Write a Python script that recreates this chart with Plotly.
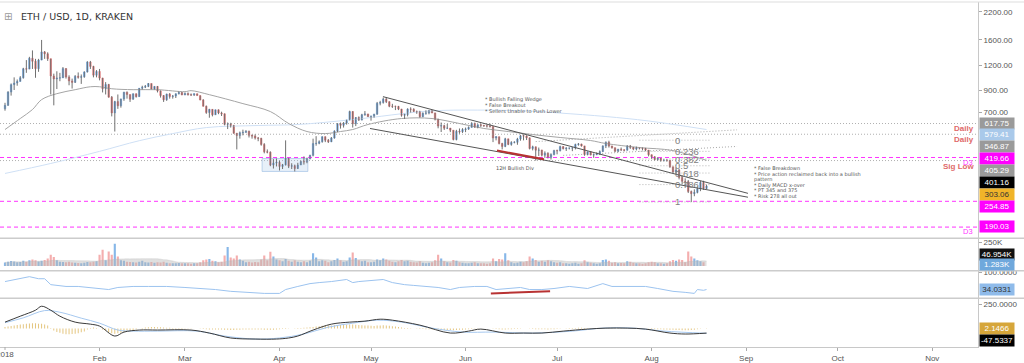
import numpy as np
import pandas as pd
import plotly.graph_objects as go

# ---------------- DATA ----------------
first_open = 730
close_jan = [760,884,962,980,997,1041,1153,1148,1299,1255,1154,1273,1396,1366,1292,1061,1026,1036,1039,1155,1049,1003,987,1058,1046,1052,1111,1245,1183,1071,1118]
close_feb = [1036,917,964,834,697,793,756,817,883,860,815,867,839,923,935,943,974,914,943,895,849,809,864,840,845,867,879,856]
close_mar = [869,857,856,867,849,808,752,700,726,682,722,697,690,612,613,605,553,539,556,559,565,540,536,524,522,487,448,446,385,394,397]
close_apr = [379,386,417,380,382,370,385,401,399,414,430,492,493,502,532,511,502,524,567,616,605,621,644,708,616,661,643,683,689,669]
close_may = [672,687,778,785,816,792,752,751,751,728,679,685,728,727,709,707,668,695,696,716,697,649,600,603,586,587,573,515,566,563,577]
close_jun = [580,591,619,592,609,605,602,600,597,524,532,492,476,519,487,498,499,518,537,536,525,465,474,456,457,431,441,420,434,454]
close_jul = [453,475,464,467,467,468,487,489,479,434,448,432,433,436,449,479,499,478,469,451,461,458,456,479,471,462,469,467,466,457,433]
close_aug = [423,410,417,406,407,406,378,356,364,334,320,319,285,278,282,294,316,295,303]

high_jan = [782,893,975,1045,1020,1060,1165,1272,1320,1420,1290,1290,1600,1410,1390,1290,1090,1120,1100,1175,1160,1070,1030,1072,1105,1080,1120,1256,1260,1192,1135]
high_feb = [1150,1040,990,970,845,800,860,820,886,890,860,870,870,925,950,958,980,970,945,947,900,854,868,874,855,870,890,885]
high_mar = [880,880,870,870,868,850,815,758,730,727,724,725,707,693,625,623,608,555,564,576,573,570,545,546,530,525,494,460,450,412,415]
high_apr = [405,390,510,418,393,387,395,405,425,419,433,520,535,510,534,533,518,530,572,620,625,628,645,715,711,665,670,690,712,690]
high_may = [675,690,790,800,830,835,795,773,757,755,730,690,735,743,735,716,714,701,718,720,720,699,652,625,609,615,587,573,575,584,586]
high_jun = [590,598,627,624,612,616,608,610,617,598,535,532,496,525,518,505,505,525,543,545,540,527,480,475,470,458,450,445,440,458]
high_jul = [459,480,477,472,470,472,491,495,491,479,449,450,438,445,455,482,504,508,480,470,463,470,460,483,484,473,475,470,470,468,457]
high_aug = [434,426,421,417,411,412,408,378,375,369,342,331,325,288,292,302,321,322,308]

low_jan = [715,755,849,905,950,1000,1030,1100,1147,1150,1040,1113,1270,1290,1260,860,760,915,1000,1037,1030,955,920,980,1030,970,1040,1104,1150,1045,1045]
low_feb = [1010,880,860,830,670,564,730,740,800,820,790,810,830,838,910,925,935,912,910,880,830,790,800,820,820,826,860,853]
low_mar = [853,850,845,845,850,805,750,690,660,670,684,687,673,605,580,590,550,460,520,540,555,527,520,515,505,480,440,440,380,370,379]
low_apr = [362,368,383,372,368,358,368,385,387,393,411,425,480,488,497,500,495,500,520,560,583,590,610,640,590,600,636,640,675,665]
low_may = [638,660,683,760,775,780,744,738,720,720,668,651,670,700,705,690,660,664,683,686,695,640,585,561,574,580,560,510,510,550,555]
low_jun = [560,575,590,589,585,594,595,590,590,500,510,487,460,472,483,480,493,485,508,510,512,460,455,405,427,425,418,415,410,430]
low_jul = [435,450,460,452,460,451,460,480,475,428,430,430,418,431,432,447,467,470,464,446,446,452,450,454,463,456,455,460,455,452,425]
low_aug = [413,406,405,400,401,400,373,352,347,327,310,302,280,253,270,279,286,290,293]

vol_jan = [38,45,52,48,40,42,55,45,60,70,62,48,55,64,80,118,95,60,45,42,40,45,38,35,32,30,35,42,40,45,50]
vol_feb = [120,172,60,154,120,236,100,60,55,45,42,40,38,45,55,40,38,42,35,40,38,45,35,30,28,30,32,30]
vol_mar = [30,28,25,28,30,40,60,70,75,55,50,40,45,110,200,90,80,110,70,55,40,45,38,42,40,70,110,60,150,100,70]
vol_apr = [60,50,75,55,45,60,45,40,50,40,55,136,90,50,60,55,40,50,65,80,60,45,50,90,143,85,60,50,55,40]
vol_may = [40,45,70,60,80,70,55,45,40,50,65,50,55,45,40,38,50,35,30,35,40,60,118,80,50,40,38,64,55,40,35]
vol_jun = [30,28,35,40,30,30,28,25,30,80,50,75,70,136,60,40,30,35,45,40,50,100,80,64,45,55,45,60,50,40]
vol_jul = [35,40,30,28,25,28,35,25,30,60,40,35,30,25,30,64,70,55,35,40,30,32,30,50,45,35,30,28,25,30,40]
vol_aug = [45,40,30,28,25,30,50,64,55,70,64,40,154,100,80,60,50,40,1.283]

hist_jan = [15,20,25,30,35,40,45,50,52,55,55,50,48,40,30,5,-20,-35,-45,-55,-60,-60,-58,-55,-50,-40,-30,-10,5,10,5]
hist_feb = [0,-10,-20,-35,-50,-55,-50,-45,-38,-30,-22,-15,-8,0,5,10,12,15,15,14,12,10,8,8,6,5,5,4]
hist_mar = [3,2,2,1,0,-2,-5,-8,-10,-10,-10,-10,-10,-12,-14,-15,-15,-14,-12,-10,-10,-10,-10,-10,-10,-10,-12,-12,-14,-12,-10]
hist_apr = [-8,-6,-4,-2,0,2,4,6,8,10,12,16,20,24,28,30,32,32,33,34,35,36,38,40,40,38,36,34,32,30]
hist_may = [28,26,30,32,34,32,28,24,20,15,10,6,4,2,0,-2,-4,-6,-7,-8,-8,-10,-12,-14,-15,-16,-16,-18,-16,-14,-12]
hist_jun = [-10,-8,-5,-3,-2,-1,0,0,0,-3,-5,-8,-10,-10,-9,-8,-6,-4,-2,-1,0,-3,-5,-7,-8,-9,-9,-10,-9,-7]
hist_jul = [-5,-2,0,2,4,5,6,8,8,6,4,2,0,0,1,3,5,7,7,6,5,4,3,3,3,2,2,1,0,-1,-3]
hist_aug = [-5,-7,-8,-9,-10,-11,-12,-14,-15,-16,-17,-18,-18,-16,-12,-8,-3,0,2.1466]

macd_dates = ["2018-01-01","2018-01-06","2018-01-11","2018-01-13","2018-01-16","2018-01-19","2018-01-24","2018-01-29","2018-02-01","2018-02-06","2018-02-09","2018-02-14","2018-02-20","2018-03-03","2018-03-09","2018-03-16","2018-03-24","2018-03-31","2018-04-04","2018-04-07","2018-04-12","2018-04-18","2018-04-24","2018-04-29","2018-05-04","2018-05-08","2018-05-17","2018-05-27","2018-06-02","2018-06-06","2018-06-14","2018-06-20","2018-06-26","2018-07-03","2018-07-11","2018-07-17","2018-07-24","2018-07-30","2018-08-07","2018-08-12","2018-08-19"]
macd_vals = [66,127,189,230,189,127,66,45,25,-78,-37,-16,-16,-16,-47,-98,-109,-109,-98,-78,-16,45,66,76,96,86,35,-47,-27,-6,-47,-47,-47,-27,-6,4,4,-6,-47,-57,-47.53]
signal_dates = ["2018-01-01","2018-01-07","2018-01-14","2018-01-19","2018-01-26","2018-02-01","2018-02-07","2018-02-12","2018-02-20","2018-03-05","2018-03-14","2018-03-24","2018-04-01","2018-04-09","2018-04-17","2018-04-25","2018-05-03","2018-05-11","2018-05-21","2018-05-31","2018-06-10","2018-06-23","2018-07-06","2018-07-16","2018-07-26","2018-08-05","2018-08-19"]
signal_vals = [60,110,185,168,107,55,-16,-27,-27,-27,-78,-109,-98,-57,14,55,86,66,4,-37,-37,-47,-27,4,4,-27,-49.7]

rsi_dates = ["2018-01-01","2018-01-04","2018-01-09","2018-01-12","2018-01-14","2018-01-16","2018-01-18","2018-01-21","2018-01-25","2018-02-01","2018-02-04","2018-02-07","2018-02-12","2018-02-17","2018-02-23","2018-03-01","2018-03-06","2018-03-11","2018-03-16","2018-03-22","2018-03-27","2018-04-01","2018-04-03","2018-04-07","2018-04-11","2018-04-14","2018-04-18","2018-04-23","2018-04-25","2018-04-27","2018-05-01","2018-05-05","2018-05-08","2018-05-12","2018-05-15","2018-05-19","2018-05-23","2018-05-27","2018-05-30","2018-06-04","2018-06-08","2018-06-11","2018-06-15","2018-06-19","2018-06-22","2018-06-26","2018-06-30","2018-07-05","2018-07-11","2018-07-13","2018-07-16","2018-07-19","2018-07-22","2018-07-26","2018-07-30","2018-08-03","2018-08-08","2018-08-12","2018-08-15","2018-08-16","2018-08-18","2018-08-19"]
rsi_vals = [65,73,84,76,76,53,50,46,46,38,34,42,46,46,46,42,38,34,27,23,19,19,34,46,57,61,65,73,61,65,69,73,61,53,50,46,42,34,42,46,46,34,38,42,34,34,38,46,38,46,57,46,46,46,46,38,27,23,19,34,31,34.03]

ma50_dates = ["2018-01-01","2018-01-06","2018-01-10","2018-01-13","2018-01-18","2018-01-24","2018-01-29","2018-02-01","2018-02-05","2018-02-12","2018-02-20","2018-03-01","2018-03-03","2018-03-09","2018-03-20","2018-03-29","2018-04-04","2018-04-10","2018-04-16","2018-04-21","2018-04-25","2018-04-30","2018-05-11","2018-05-21","2018-05-30","2018-06-07","2018-06-15","2018-06-23","2018-07-02","2018-07-12","2018-07-17","2018-07-28","2018-08-08","2018-08-19"]
ma50_vals = [577,654,724,811,868,908,939,939,918,908,908,888,898,858,775,708,618,564,551,564,577,611,654,654,618,584,564,545,527,509,492,470,454,406]
ma200_dates = ["2018-01-01","2018-01-16","2018-02-01","2018-02-14","2018-02-25","2018-03-08","2018-03-25","2018-04-07","2018-04-25","2018-05-20","2018-06-05","2018-06-22","2018-07-02","2018-07-17","2018-07-31","2018-08-19"]
ma200_vals = [350,392,450,508,551,590,604,611,646,712,720,712,696,669,636,577]

# drawn objects (dates / prices)
wedge_upper_dates = ["2018-05-04 22:00", "2018-09-01 14:00"]
wedge_upper_prices = [839, 279]
wedge_lower_dates = ["2018-04-30 16:00", "2018-09-01 14:00"]
wedge_lower_prices = [584, 267]
div_dates = ["2018-06-11 07:00", "2018-06-26 17:00"]
div_prices = [454, 411]
rsi_div_dates = ["2018-06-09 07:00", "2018-06-28 17:00"]
rsi_div_vals = [19, 27]
box_dates = ["2018-03-26 07:00", "2018-04-10 07:00"]
box_prices = [358, 415]
rise_a_dates = ["2018-06-24", "2018-08-29"]
rise_a_prices = [503, 575]
rise_b_dates = ["2018-07-03", "2018-08-29"]
rise_b_prices = [430, 476]
fib_high, fib_low = 511, 253
fib_levels = [0, 0.236, 0.382, 0.5, 0.618, 0.786, 1]
fib_labels = ["0", "0.236", "0.382", "0.5", "0.618", "0.786", "1"]

magenta_levels = [419.66, 254.85, 190.03]
grey_levels = [617.75, 546.87, 405.29]

price_ticks = [700, 900, 1200, 1600, 2200]
month_ticks = ["2018-01-01","2018-02-01","2018-03-01","2018-04-01","2018-05-01","2018-06-01","2018-07-01","2018-08-01","2018-09-01","2018-10-01","2018-11-01"]
month_labels = ["2018","Feb","Mar","Apr","May","Jun","Jul","Aug","Sep","Oct","Nov"]

# ---------------- assemble ----------------
close = close_jan + close_feb + close_mar + close_apr + close_may + close_jun + close_jul + close_aug
high = high_jan + high_feb + high_mar + high_apr + high_may + high_jun + high_jul + high_aug
low = low_jan + low_feb + low_mar + low_apr + low_may + low_jun + low_jul + low_aug
volume = [v * 1000 for v in vol_jan + vol_feb + vol_mar + vol_apr + vol_may + vol_jun + vol_jul + vol_aug]
hist = hist_jan + hist_feb + hist_mar + hist_apr + hist_may + hist_jun + hist_jul + hist_aug
n = len(close)
assert len(high) == n and len(low) == n and len(volume) == n and len(hist) == n, (n, len(high), len(low), len(volume), len(hist))

dates = pd.date_range("2018-01-01", periods=n, freq="D")
opens = [first_open] + close[:-1]
highs = [max(h, o, c) for h, o, c in zip(high, opens, close)]
lows = [min(l, o, c) for l, o, c in zip(low, opens, close)]
body_hi = [max(o, c) for o, c in zip(opens, close)]
body_lo = [min(o, c) for o, c in zip(opens, close)]
up = [c >= o for o, c in zip(opens, close)]
vol_ma = pd.Series(volume).rolling(20, min_periods=1).mean()

BLUE = "#5f9fe0"
RED = "#e36b6b"
X0, X1 = "2017-12-30 08:40", "2018-11-16 00:00"

fig = go.Figure()

# horizontal levels
for lv in grey_levels:
    fig.add_trace(go.Scatter(x=[X0, X1], y=[lv, lv], mode="lines", line=dict(color="#b0b0b0", width=1, dash="1px,2px"), hoverinfo="skip"))
for lv in magenta_levels:
    fig.add_trace(go.Scatter(x=[X0, X1], y=[lv, lv], mode="lines", line=dict(color="#ff33ff", width=1, dash="4px,3px"), hoverinfo="skip"))

# moving averages
fig.add_trace(go.Scatter(x=ma200_dates, y=ma200_vals, mode="lines", line=dict(color="#cfe0f5", width=1, shape="spline"), hoverinfo="skip"))
fig.add_trace(go.Scatter(x=ma50_dates, y=ma50_vals, mode="lines", line=dict(color="#a5a5a5", width=1, shape="spline"), hoverinfo="skip"))

# blue box
fig.add_trace(go.Scatter(x=[box_dates[0], box_dates[1], box_dates[1], box_dates[0], box_dates[0]],
                         y=[box_prices[0], box_prices[0], box_prices[1], box_prices[1], box_prices[0]],
                         mode="lines", fill="toself", fillcolor="rgba(170,200,235,0.28)",
                         line=dict(color="rgba(150,185,225,0.6)", width=1), hoverinfo="skip"))

# fib lines
for f in fib_levels:
    p = fib_high - f * (fib_high - fib_low)
    fig.add_trace(go.Scatter(x=["2018-07-28", "2018-08-20"], y=[p, p], mode="lines",
                             line=dict(color="#b5b5b5", width=1, dash="1px,2px"), hoverinfo="skip"))
# rising dotted lines
fig.add_trace(go.Scatter(x=rise_a_dates, y=rise_a_prices, mode="lines", line=dict(color="#a8a8a8", width=1, dash="1px,2px"), hoverinfo="skip"))
fig.add_trace(go.Scatter(x=rise_b_dates, y=rise_b_prices, mode="lines", line=dict(color="#a8a8a8", width=1, dash="1px,2px"), hoverinfo="skip"))

# wicks
wx, wy = [], []
for d, h, l in zip(dates, highs, lows):
    wx += [d, d, None]
    wy += [l, h, None]
fig.add_trace(go.Scatter(x=wx, y=wy, mode="lines", line=dict(color="#707070", width=1), hoverinfo="skip"))

# bodies
fig.add_trace(go.Candlestick(x=dates, open=opens, close=close, high=body_hi, low=body_lo,
                             increasing=dict(line=dict(color=BLUE, width=0.5), fillcolor=BLUE),
                             decreasing=dict(line=dict(color=RED, width=0.5), fillcolor=RED),
                             whiskerwidth=0, hoverinfo="skip"))

# wedge + divergence lines
fig.add_trace(go.Scatter(x=wedge_upper_dates, y=wedge_upper_prices, mode="lines", line=dict(color="#555555", width=1), hoverinfo="skip"))
fig.add_trace(go.Scatter(x=wedge_lower_dates, y=wedge_lower_prices, mode="lines", line=dict(color="#555555", width=1), hoverinfo="skip"))
fig.add_trace(go.Scatter(x=div_dates, y=div_prices, mode="lines", line=dict(color="#b83232", width=2), hoverinfo="skip"))

# volume pane
fig.add_trace(go.Scatter(x=dates, y=vol_ma, mode="lines", fill="tozeroy", fillcolor="rgba(185,185,185,0.45)",
                         line=dict(color="rgba(185,185,185,0.6)", width=0.5, shape="spline"), yaxis="y2", hoverinfo="skip"))
fig.add_trace(go.Bar(x=dates, y=volume, yaxis="y2", width=86400000 * 0.7,
                     marker=dict(color=["rgba(95,159,224,0.75)" if u else "rgba(236,120,120,0.6)" for u in up], line=dict(width=0)),
                     hoverinfo="skip"))

# RSI pane
fig.add_trace(go.Scatter(x=rsi_dates, y=rsi_vals, mode="lines", line=dict(color="#9cc3ef", width=1), yaxis="y3", hoverinfo="skip"))
fig.add_trace(go.Scatter(x=rsi_div_dates, y=rsi_div_vals, mode="lines", line=dict(color="#b83232", width=2), yaxis="y3", hoverinfo="skip"))

# MACD pane
fig.add_trace(go.Bar(x=dates, y=hist, yaxis="y4", width=86400000 * 0.3,
                     marker=dict(color="rgba(214,166,58,0.7)", line=dict(width=0)), hoverinfo="skip"))
fig.add_trace(go.Scatter(x=signal_dates, y=signal_vals, mode="lines", line=dict(color="#a6c8ef", width=1, shape="spline"), yaxis="y4", hoverinfo="skip"))
fig.add_trace(go.Scatter(x=macd_dates, y=macd_vals, mode="lines", line=dict(color="#3a3a3a", width=1, shape="spline"), yaxis="y4", hoverinfo="skip"))

# ---------------- layout ----------------
H = 347.0
def py(pix):
    return (H - pix) / H

axis_common = dict(side="right", anchor="x", showgrid=False, zeroline=False, showline=True,
                   linecolor="#c8c8c8", ticks="outside", ticklen=3, tickcolor="#aaaaaa",
                   tickfont=dict(family="Liberation Sans, Arial", size=8, color="#555555"), fixedrange=True)

fig.update_layout(
    width=1024, height=363, margin=dict(l=0, r=46, t=0, b=16),
    paper_bgcolor="white", plot_bgcolor="white", showlegend=False, bargap=0.3,
    font=dict(family="Liberation Sans, Arial", size=8, color="#555555"),
    xaxis=dict(type="date", range=[X0, X1], domain=[0, 1], anchor="y4", tickvals=month_ticks[1:], ticktext=month_labels[1:],
               ticks="outside", ticklen=3, tickcolor="#aaaaaa", showgrid=False, zeroline=False, showline=True,
               linecolor="#c8c8c8", tickfont=dict(family="Liberation Sans, Arial", size=8, color="#555555"),
               rangeslider=dict(visible=False), fixedrange=True),
    yaxis=dict(type="log", range=[2.2242, 3.3917], domain=[py(237.5), 1.0], tickvals=price_ticks,
               ticktext=["%.2f" % v for v in price_ticks], **axis_common),
    yaxis2=dict(range=[-50000, 293000], domain=[py(270.3), py(237.7)], tickvals=[250000], ticktext=["250K"], **axis_common),
    yaxis3=dict(range=[0, 107], domain=[py(298), py(270.3)], tickvals=[100], ticktext=["100.0000"], **axis_common),
    yaxis4=dict(range=[-191, 312], domain=[0, py(298)], tickvals=[250], ticktext=["250.0000"], **axis_common),
)

# pane separators
for pix in [237.7, 270.3, 298.0]:
    fig.add_shape(type="line", xref="paper", yref="paper", x0=0, x1=1.05, y0=py(pix), y1=py(pix),
                  line=dict(color="#cccccc", width=1.5))
fig.add_shape(type="line", xref="paper", yref="paper", x0=0, x1=1.05, y0=1, y1=1, line=dict(color="#dddddd", width=1))
# Jan tick mark (its label is drawn as an annotation, clipped at the left edge like the original)
fig.add_shape(type="line", xref="x", yref="paper", x0=month_ticks[0], x1=month_ticks[0], y0=0, y1=-3 / 347,
              line=dict(color="#aaaaaa", width=1))

ann = []
ann.append(dict(x=month_ticks[0], y=-8 / 347, xref="x", yref="paper", text=month_labels[0], showarrow=False,
                xanchor="center", yanchor="middle", font=dict(family="Liberation Sans, Arial", size=8, color="#555555")))
# title
ann.append(dict(x=8 / 978, y=py(15), xref="paper", yref="paper", text="⊞", showarrow=False, xanchor="center",
                yanchor="middle", font=dict(family="DejaVu Sans", size=10, color="#9a9a9a")))
ann.append(dict(x=19 / 978, y=py(15), xref="paper", yref="paper", text="ETH / USD, 1D, KRAKEN", showarrow=False,
                xanchor="left", yanchor="middle", font=dict(family="DejaVu Sans", size=9.5, color="#333333")))

def note(x, price, text, size=5, color="#555555"):
    ann.append(dict(x=x, y=np.log10(price), xref="x", yref="y", text=text, showarrow=False, xanchor="left",
                    yanchor="middle", font=dict(family="DejaVu Sans", size=size, color=color)))

note("2018-06-06 16:00", 811, "* Bullish Falling Wedge")
note("2018-06-06 16:00", 762, "* False Breakout")
note("2018-06-06 16:00", 716, "* Sellers Unable to Push Lower")
note("2018-06-10 08:00", 371, "12H Bullish Div")
right_notes = [(372, "* False Breakdown"), (347, "* Price action reclaimed back into a bullish"), (325.6, "pattern"),
               (306, "* Daily MACD x-over"), (288.6, "* PT 345 and 375"), (272, "* Risk 278 all out")]
for p, t in right_notes:
    note("2018-09-02 20:00", p, t)
for f, lab in zip(fib_levels, fib_labels):
    p = fib_high - f * (fib_high - fib_low)
    ann.append(dict(x="2018-08-08", y=np.log10(p), xref="x", yref="y", text=lab, showarrow=False, xanchor="left",
                    yanchor="middle", font=dict(family="Liberation Sans, Arial", size=9.5, color="#808080")))

# right-side red / magenta labels
for pix in [161.5, 231]:
    ann.append(dict(x=975 / 978, y=py(pix), xref="paper", yref="paper", text="D3", showarrow=False,
                    xanchor="right", yanchor="middle", font=dict(family="Liberation Sans, Arial", size=7.5, color="#ff33ff")))
for pix, t in [(127.5, "Daily"), (138.3, "Daily"), (165, "Sig Low")]:
    ann.append(dict(x=976 / 978, y=py(pix), xref="paper", yref="paper", text="<b>%s</b>" % t, showarrow=False,
                    xanchor="right", yanchor="middle", font=dict(family="Liberation Sans, Arial", size=8, color="#e06a6a")))

# axis value boxes
boxes = [(122, "617.75", "#9a9a9a", "white"), (133.7, "579.41", "#a9c9ea", "white"), (145.3, "546.87", "#9a9a9a", "white"),
         (157.2, "419.66", "#ff00ff", "white"), (169.4, "405.29", "#9a9a9a", "white"), (182, "401.16", "#000000", "white"),
         (194, "303.06", "#f0b429", "#333333"), (206, "254.85", "#ff00ff", "white"), (226, "190.03", "#ff00ff", "white"),
         (253.7, "46.954K", "#111111", "white"), (264.5, "1.283K", "#6fa8dc", "white"),
         (289.3, "34.0331", "#8fbbea", "#333333"),
         (328.4, "2.1466", "#d6a63a", "white"), (340.7, "-47.5337", "#000000", "white")]
for pix, t, bg, fc in boxes:
    ann.append(dict(x=979 / 978, y=py(pix), xref="paper", yref="paper", text=t, showarrow=False, xanchor="left",
                    yanchor="middle", bgcolor=bg, borderpad=1, width=32, align="center",
                    font=dict(family="Liberation Sans, Arial", size=8, color=fc)))

fig.update_layout(annotations=ann)
fig.write_html("out.html", config={"displayModeBar": False, "staticPlot": True})

# remove the browser's default page margin so the figure sits at the window's top-left corner
with open("out.html", "r", encoding="utf-8") as fh:
    page = fh.read()
page = page.replace("<head>", "<head><style>html,body{margin:0;padding:0;overflow:hidden;}</style>", 1)
with open("out.html", "w", encoding="utf-8") as fh:
    fh.write(page)
